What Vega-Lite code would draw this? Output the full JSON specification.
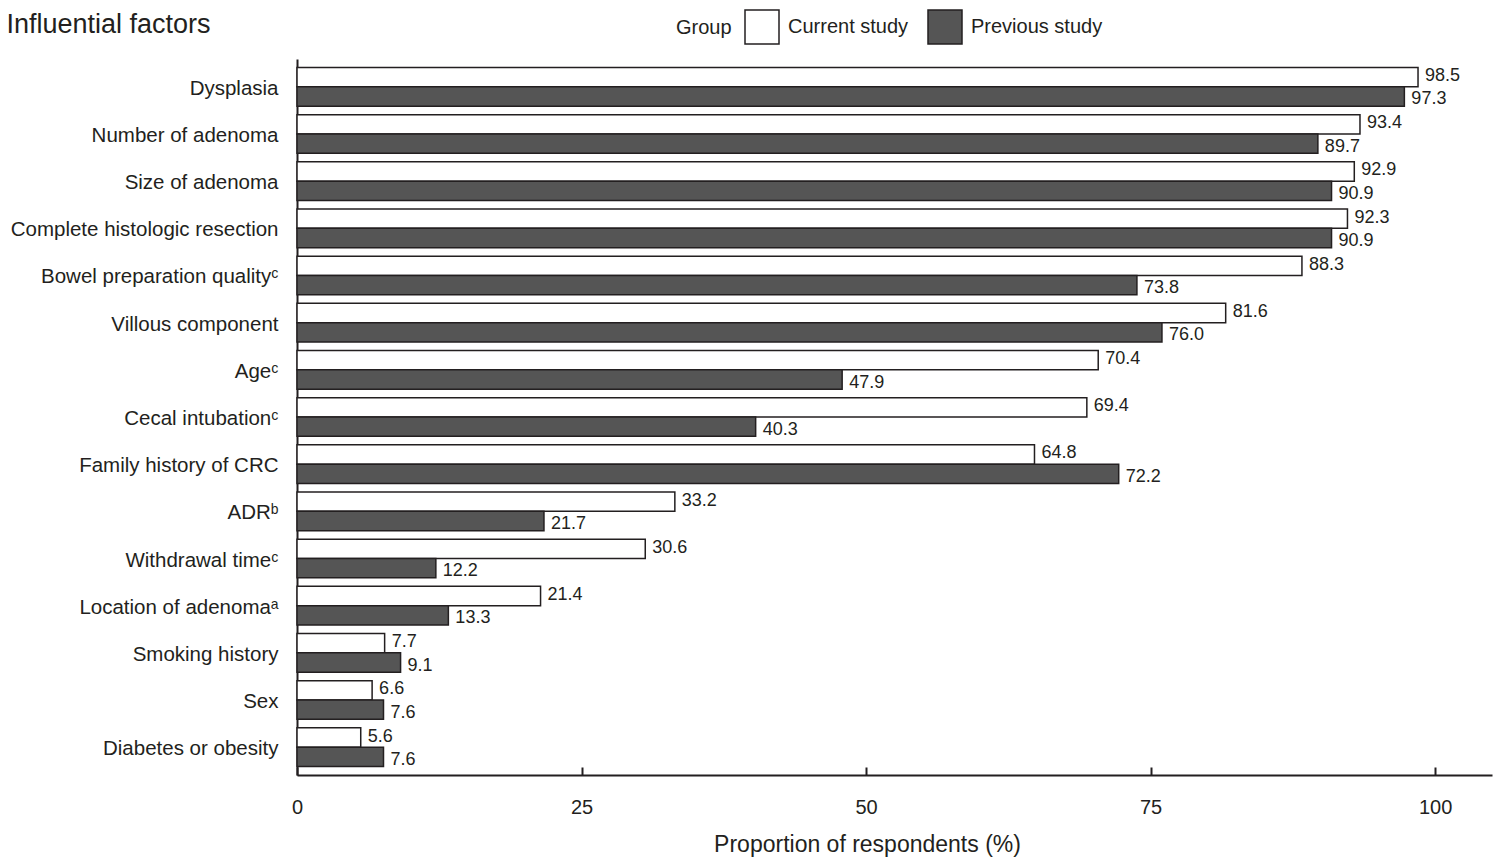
{
  "$schema": "https://vega.github.io/schema/vega-lite/v6.json",
  "width": 1195,
  "height": 716,
  "autosize": {"type": "none"},
  "padding": {"left": 297, "top": 59, "right": 10, "bottom": 89},
  "background": "white",
  "config": {
    "view": {"stroke": null},
    "font": "Liberation Sans",
    "axis": {"labelFont": "Liberation Sans", "titleFont": "Liberation Sans", "labelColor": "#231f20", "titleColor": "#231f20"},
    "legend": {"labelFont": "Liberation Sans", "titleFont": "Liberation Sans"}
  },
  "data": {
    "values": [
      {"factor": "Dysplasia", "group": "Current study", "value": 98.5},
      {"factor": "Dysplasia", "group": "Previous study", "value": 97.3},
      {"factor": "Number of adenoma", "group": "Current study", "value": 93.4},
      {"factor": "Number of adenoma", "group": "Previous study", "value": 89.7},
      {"factor": "Size of adenoma", "group": "Current study", "value": 92.9},
      {"factor": "Size of adenoma", "group": "Previous study", "value": 90.9},
      {"factor": "Complete histologic resection", "group": "Current study", "value": 92.3},
      {"factor": "Complete histologic resection", "group": "Previous study", "value": 90.9},
      {"factor": "Bowel preparation qualityᶜ", "group": "Current study", "value": 88.3},
      {"factor": "Bowel preparation qualityᶜ", "group": "Previous study", "value": 73.8},
      {"factor": "Villous component", "group": "Current study", "value": 81.6},
      {"factor": "Villous component", "group": "Previous study", "value": 76.0},
      {"factor": "Ageᶜ", "group": "Current study", "value": 70.4},
      {"factor": "Ageᶜ", "group": "Previous study", "value": 47.9},
      {"factor": "Cecal intubationᶜ", "group": "Current study", "value": 69.4},
      {"factor": "Cecal intubationᶜ", "group": "Previous study", "value": 40.3},
      {"factor": "Family history of CRC", "group": "Current study", "value": 64.8},
      {"factor": "Family history of CRC", "group": "Previous study", "value": 72.2},
      {"factor": "ADRᵇ", "group": "Current study", "value": 33.2},
      {"factor": "ADRᵇ", "group": "Previous study", "value": 21.7},
      {"factor": "Withdrawal timeᶜ", "group": "Current study", "value": 30.6},
      {"factor": "Withdrawal timeᶜ", "group": "Previous study", "value": 12.2},
      {"factor": "Location of adenomaᵃ", "group": "Current study", "value": 21.4},
      {"factor": "Location of adenomaᵃ", "group": "Previous study", "value": 13.3},
      {"factor": "Smoking history", "group": "Current study", "value": 7.7},
      {"factor": "Smoking history", "group": "Previous study", "value": 9.1},
      {"factor": "Sex", "group": "Current study", "value": 6.6},
      {"factor": "Sex", "group": "Previous study", "value": 7.6},
      {"factor": "Diabetes or obesity", "group": "Current study", "value": 5.6},
      {"factor": "Diabetes or obesity", "group": "Previous study", "value": 7.6}
    ]
  },
  "encoding": {
    "y": {
      "field": "factor",
      "type": "nominal",
      "sort": null,
      "scale": {"paddingInner": 0.18, "paddingOuter": 0.18},
      "axis": {
        "title": "Influential factors",
        "titleAngle": 0,
        "titleAlign": "left",
        "titleBaseline": "middle",
        "titleX": -291,
        "titleY": -35,
        "titleFontSize": 27,
        "titleFontWeight": "normal",
        "labelFontSize": 20.5,
        "labelPadding": 19,
        "labelOffset": 2,
        "labelLimit": 400,
        "ticks": false,
        "domainColor": "#231f20",
        "domainWidth": 2
      }
    },
    "yOffset": {"field": "group", "type": "nominal", "sort": ["Current study", "Previous study"]},
    "x": {
      "field": "value",
      "type": "quantitative",
      "scale": {"domain": [0, 105], "nice": false},
      "axis": {
        "values": [0, 25, 50, 75, 100],
        "title": "Proportion of respondents (%)",
        "titleFontSize": 23,
        "titleFontWeight": "normal",
        "titleX": 570,
        "titleY": 58,
        "titleBaseline": "top",
        "titleAlign": "center",
        "labelFontSize": 20,
        "labelFlush": false,
        "tickSize": -8,
        "tickWidth": 2,
        "tickColor": "#231f20",
        "labelPadding": 30,
        "labelBaseline": "top",
        "domainColor": "#231f20",
        "domainWidth": 2,
        "grid": false
      }
    }
  },
  "layer": [
    {
      "mark": {"type": "bar", "stroke": "#231f20", "strokeWidth": 1.5},
      "encoding": {
        "color": {
          "field": "group",
          "type": "nominal",
          "scale": {"domain": ["Current study", "Previous study"], "range": ["#ffffff", "#555555"]},
          "legend": {
            "title": "Group",
            "orient": "none",
            "direction": "horizontal",
            "legendX": 379,
            "legendY": -50,
            "titleOrient": "left",
            "titleFontSize": 20,
            "titleFontWeight": "normal",
            "titleColor": "#231f20",
            "titlePadding": 12,
            "titleBaseline": "middle",
            "labelFontSize": 20,
            "labelColor": "#231f20",
            "labelOffset": 8,
            "columnPadding": 16,
            "symbolType": "square",
            "symbolSize": 1156,
            "symbolStrokeColor": "#231f20",
            "symbolStrokeWidth": 1.5,
            "symbolOpacity": 1
          }
        }
      }
    },
    {
      "transform": [{"filter": "datum.group === 'Current study'"}],
      "mark": {"type": "text", "align": "left", "baseline": "middle", "dx": 7, "dy": -1, "fontSize": 18, "color": "#231f20"},
      "encoding": {
        "text": {"field": "value", "type": "quantitative", "format": ".1f"}
      }
    },
    {
      "transform": [{"filter": "datum.group === 'Previous study'"}],
      "mark": {"type": "text", "align": "left", "baseline": "middle", "dx": 7, "dy": 3, "fontSize": 18, "color": "#231f20"},
      "encoding": {
        "text": {"field": "value", "type": "quantitative", "format": ".1f"}
      }
    }
  ]
}
